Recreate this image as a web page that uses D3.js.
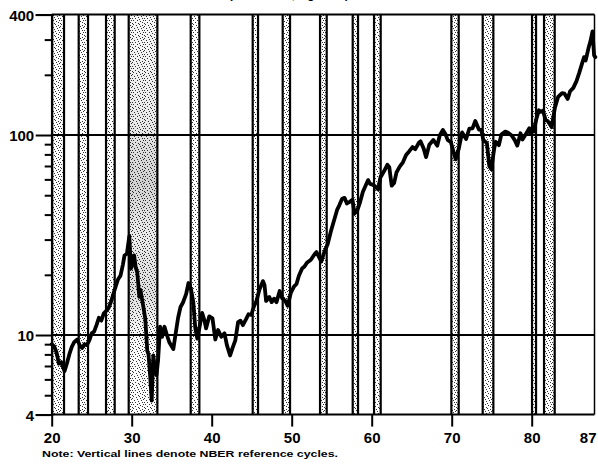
<!DOCTYPE html>
<html>
<head>
<meta charset="utf-8">
<script src="https://cdn.jsdelivr.net/npm/d3@7"></script>
<style>
  html, body { margin: 0; padding: 0; background: #fff; }
  svg { display: block; }
  text { font-family: "Liberation Sans", Arial, Helvetica, sans-serif; font-weight: bold; fill: #000; }
</style>
</head>
<body>
<svg id="chart" width="598" height="469"></svg>
<script>
// Common stock price index, monthly, log scale (1941-43 = 10)
const years = [
  1920.0, 1920.3, 1920.6, 1920.9, 1921.2, 1921.6, 1921.9, 1922.2, 1922.5, 1922.8,
  1923.2, 1923.5, 1923.8, 1924.1, 1924.4, 1924.7, 1925.0, 1925.3, 1925.6, 1925.9,
  1926.2, 1926.5, 1926.8, 1927.1, 1927.4, 1927.7, 1928.0, 1928.3, 1928.6, 1928.9,
  1929.1, 1929.4, 1929.7, 1929.9, 1930.0, 1930.3, 1930.5, 1930.7, 1930.95, 1931.1,
  1931.3, 1931.5, 1931.7, 1931.95, 1932.1, 1932.3, 1932.5, 1932.7, 1932.9, 1933.1,
  1933.3, 1933.55, 1933.8, 1934.1, 1934.4, 1934.7, 1935.2, 1935.5, 1935.8, 1936.1,
  1936.4, 1936.8, 1937.1, 1937.4, 1937.7, 1937.95, 1938.2, 1938.45, 1938.8, 1939.1,
  1939.3, 1939.7, 1940.1, 1940.45, 1940.8, 1941.2, 1941.6, 1941.9, 1942.3, 1942.6,
  1942.95, 1943.3, 1943.6, 1943.9, 1944.3, 1944.6, 1944.95, 1945.3, 1945.6, 1945.95,
  1946.4, 1946.6, 1946.8, 1947.2, 1947.5, 1947.8, 1948.1, 1948.5, 1948.8, 1949.2,
  1949.5, 1949.9, 1950.3, 1950.6, 1950.9, 1951.3, 1951.6, 1951.9, 1952.4, 1952.9,
  1953.1, 1953.7, 1954.0, 1954.5, 1954.9, 1955.3, 1955.7, 1955.95, 1956.3, 1956.6,
  1956.9, 1957.3, 1957.6, 1957.85, 1958.2, 1958.5, 1958.9, 1959.3, 1959.55, 1959.8,
  1960.1, 1960.4, 1960.8, 1961.1, 1961.5, 1961.95, 1962.2, 1962.5, 1962.8, 1963.1,
  1963.5, 1963.9, 1964.3, 1964.7, 1965.1, 1965.45, 1965.9, 1966.1, 1966.5, 1966.8,
  1967.2, 1967.7, 1968.2, 1968.5, 1968.9, 1969.2, 1969.5, 1969.9, 1970.5, 1970.9,
  1971.3, 1971.8, 1972.2, 1972.6, 1972.95, 1973.4, 1973.7, 1973.95, 1974.4, 1974.7,
  1974.95, 1975.3, 1975.5, 1975.9, 1976.2, 1976.7, 1977.0, 1977.5, 1977.9, 1978.2,
  1978.6, 1978.85, 1979.2, 1979.7, 1979.85, 1980.15, 1980.25, 1980.6, 1980.9, 1981.1,
  1981.4, 1981.75, 1982.0, 1982.5, 1982.9, 1983.3, 1983.8, 1984.1, 1984.5, 1984.8,
  1985.2, 1985.6, 1985.95, 1986.3, 1986.55, 1986.75, 1987.1, 1987.35, 1987.6, 1987.8,
  1987.95
];
const values = [
  9.0, 8.8, 8.2, 7.2, 7.3, 6.6, 7.2, 8.0, 8.7, 9.2,
  9.5, 8.9, 8.6, 9.0, 8.9, 9.4, 10.2, 10.4, 11.2, 12.2,
  11.8, 12.8, 13.2, 13.6, 14.6, 16.0, 17.5, 19.0, 19.8, 22.5,
  25.0, 25.5, 31.2, 21.5, 22.0, 25.0, 21.8, 20.5, 15.5, 16.8,
  15.0, 13.5, 12.0, 8.3, 8.0, 6.3, 4.7, 7.9, 6.9, 6.3,
  7.5, 11.0, 9.8, 11.0, 10.0, 9.2, 8.5, 10.2, 12.2, 13.8,
  14.5, 16.0, 18.2, 17.0, 14.6, 10.8, 9.6, 10.8, 12.9, 11.8,
  10.8, 12.4, 12.1, 9.5, 10.6, 9.8, 10.2, 8.9, 7.9, 8.6,
  9.4, 11.6, 11.8, 11.2, 12.0, 12.7, 12.6, 14.0, 14.8, 16.8,
  18.6, 17.8, 14.8, 15.5, 14.6, 15.2, 14.6, 16.6, 15.3, 14.8,
  14.0, 16.3, 17.5, 18.0, 19.8, 21.5, 22.0, 23.0, 23.8, 25.5,
  26.0, 23.3, 25.5, 28.5, 33.0, 37.5, 42.5, 44.5, 48.0, 48.5,
  45.5, 46.5, 47.5, 40.5, 42.0, 45.5, 52.0, 56.5, 59.5, 57.0,
  56.5, 55.5, 53.5, 61.5, 65.5, 71.0, 69.0, 55.8, 57.5, 65.0,
  69.5, 73.0, 79.5, 83.0, 87.0, 85.0, 91.5, 93.0, 85.5, 77.5,
  89.5, 94.5, 88.5, 99.5, 106.0, 101.5, 94.5, 92.0, 75.5, 86.0,
  103.0, 95.5, 107.5, 108.0, 117.5, 106.5, 106.0, 94.5, 91.0, 70.0,
  67.5, 85.0, 92.5, 89.0, 100.5, 104.0, 103.0, 99.5, 94.0, 88.5,
  102.0, 95.0, 100.0, 108.0, 101.5, 110.0, 104.0, 121.0, 133.0, 130.5,
  132.5, 118.5, 117.5, 109.5, 137.0, 155.0, 162.0, 161.0, 151.5, 165.5,
  172.0, 186.0, 205.0, 228.0, 245.0, 236.0, 272.0, 295.0, 330.0, 250.0,
  245.0
];

// NBER reference cycle peaks and troughs (year-month)
const cyclePeaks   = ["1920-01", "1923-05", "1926-10", "1929-08", "1937-05", "1945-02", "1948-11",
                      "1953-07", "1957-08", "1960-04", "1969-12", "1973-11", "1980-01", "1981-07"];
const cycleTroughs = ["1921-07", "1924-07", "1927-11", "1933-03", "1938-06", "1945-10", "1949-10",
                      "1954-05", "1958-04", "1961-02", "1970-11", "1975-03", "1980-07", "1982-11"];

// Axis ticks
const yMajorTicks = [4, 10, 100, 400];
const yMinorTicks = [5, 6, 7, 8, 9, 20, 30, 40, 50, 60, 70, 80, 90, 200, 300];
const yGridValues = [10, 100];
const xTickYears  = [1920, 1930, 1940, 1950, 1960, 1970, 1980, 1987];

const chartTitle = "(1941-43=10, log scale)";
const noteText = "Note:  Vertical lines denote NBER reference cycles.";

const svg = d3.select("#chart");
const pLeft = 51.7, pRight = 594.5, pTop = 14.6, pBottom = 414.6;

const x = d3.scaleLinear().domain([1920, 1988]).range([pLeft, 595.7]);
const y = d3.scaleLog().domain([4, 400]).range([pBottom, pTop]);

const toYear = s => { const [yy, mm] = s.split("-").map(Number); return yy + (mm - 0.5) / 12; };

// Stipple fill for the recession bands: a 12x12 tile of scattered dots
const defs = svg.append("defs");
const pat = defs.append("pattern").attr("id", "stipple")
  .attr("width", 12).attr("height", 12).attr("patternUnits", "userSpaceOnUse");
pat.append("rect").attr("width", 12).attr("height", 12).attr("fill", "#fff");
const stippleDots = [[1, 0], [7, 0], [4, 1], [10, 1], [0, 2], [8, 2], [5, 3], [11, 3],
                     [2, 4], [9, 4], [6, 5], [0, 6], [3, 6], [10, 6], [7, 7], [1, 8],
                     [5, 8], [11, 8], [8, 9], [3, 10], [10, 10], [6, 11], [0, 11]];
stippleDots.forEach(([px, py]) =>
  pat.append("rect").attr("x", px).attr("y", py).attr("width", 1).attr("height", 1).attr("fill", "#333"));

const grad = defs.append("linearGradient").attr("id", "depression")
  .attr("gradientUnits", "userSpaceOnUse").attr("x1", 0).attr("x2", 0)
  .attr("y1", pTop).attr("y2", pBottom);
[[0, 0.03], [0.25, 0.08], [0.42, 0.18], [0.55, 0.08], [0.7, 0.13], [0.8, 0.03], [1, 0.0]]
  .forEach(([o, a]) => grad.append("stop").attr("offset", o).attr("stop-color", "#000").attr("stop-opacity", a));

const cycles = cyclePeaks.map((p, i) => ({ start: toYear(p), end: toYear(cycleTroughs[i]) }));

const bands = svg.append("g");
bands.selectAll("rect.band").data(cycles).join("rect")
  .attr("class", "band")
  .attr("x", d => x(d.start)).attr("width", d => x(d.end) - x(d.start))
  .attr("y", pTop).attr("height", pBottom - pTop)
  .attr("fill", "url(#stipple)");

// the long 1929-33 contraction prints darker
bands.selectAll("rect.dark").data(cycles.filter(d => d.end - d.start > 3)).join("rect")
  .attr("class", "dark")
  .attr("x", d => x(d.start)).attr("width", d => x(d.end) - x(d.start))
  .attr("y", pTop).attr("height", pBottom - pTop)
  .attr("fill", "url(#depression)");

const cycleLines = cycles.flatMap(d => [d.start, d.end]);
bands.selectAll("line").data(cycleLines).join("line")
  .attr("x1", d => x(d)).attr("x2", d => x(d))
  .attr("y1", pTop).attr("y2", pBottom)
  .attr("stroke", "#000").attr("stroke-width", 2.2);

// horizontal rules at 10 and 100
svg.append("g").selectAll("line").data(yGridValues).join("line")
  .attr("x1", pLeft).attr("x2", pRight)
  .attr("y1", d => y(d)).attr("y2", d => y(d))
  .attr("stroke", "#000").attr("stroke-width", 2);

// frame: top and right
svg.append("line").attr("x1", pLeft).attr("x2", pRight).attr("y1", pTop).attr("y2", pTop)
  .attr("stroke", "#000").attr("stroke-width", 2);
svg.append("line").attr("x1", pRight).attr("x2", pRight).attr("y1", pTop).attr("y2", pBottom)
  .attr("stroke", "#000").attr("stroke-width", 1.5);

// y axis
const yMajor = svg.append("g").attr("transform", `translate(${pLeft},0)`)
  .call(d3.axisLeft(y).tickValues(yMajorTicks).tickSize(16).tickPadding(1.5)
    .tickFormat(d3.format("d")));
yMajor.select(".domain").attr("stroke", "#000").attr("stroke-width", 2);
yMajor.selectAll(".tick line").attr("stroke", "#000").attr("stroke-width", 2);
yMajor.selectAll(".tick text").style("font-size", "15px").attr("dy", "0.36em");

const yMinor = svg.append("g").attr("transform", `translate(${pLeft},0)`)
  .call(d3.axisLeft(y).tickValues(yMinorTicks).tickSize(7).tickFormat(""));
yMinor.select(".domain").remove();
yMinor.selectAll(".tick line").attr("stroke", "#000").attr("stroke-width", 2);

// x axis
const xAxis = svg.append("g").attr("transform", `translate(0,${pBottom})`)
  .call(d3.axisBottom(x).tickValues(xTickYears).tickSize(12).tickPadding(6)
    .tickFormat(d => String(d).slice(2)));
xAxis.select(".domain").attr("d", `M${pLeft},0H${pRight}`).attr("stroke", "#000").attr("stroke-width", 2);
xAxis.selectAll(".tick line").attr("stroke", "#000").attr("stroke-width", 2)
  .filter(d => d % 10 !== 0).remove();
xAxis.selectAll(".tick text").style("font-size", "15px");

// stock price line
const line = d3.line().x((d, i) => x(years[i])).y(d => y(d));
svg.append("path").datum(values)
  .attr("d", line)
  .attr("fill", "none")
  .attr("stroke", "#000")
  .attr("stroke-width", 3.8)
  .attr("stroke-linejoin", "round")
  .attr("stroke-linecap", "round");

// title (runs off the top edge) and note
svg.append("text").attr("x", 229).attr("y", -1.5).style("font-size", "11px").text(chartTitle);
svg.append("text").attr("x", 42).attr("y", 457)
  .attr("textLength", 296).attr("lengthAdjust", "spacingAndGlyphs")
  .style("font-size", "9px").text(noteText);
</script>
</body>
</html>
